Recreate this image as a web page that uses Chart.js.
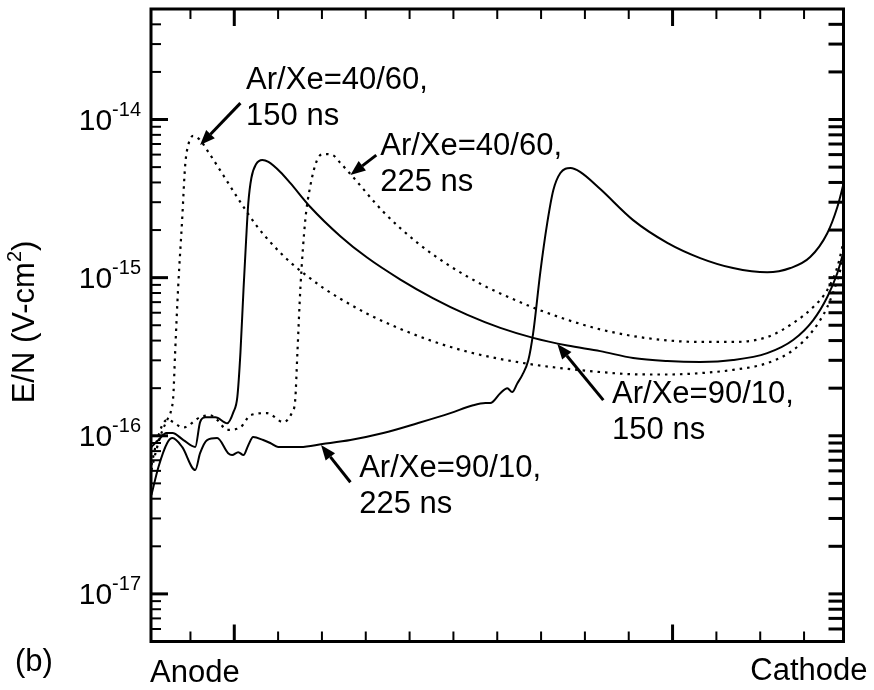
<!DOCTYPE html>
<html>
<head>
<meta charset="utf-8">
<script src="https://cdn.jsdelivr.net/npm/chart.js@4.4.1/dist/chart.umd.min.js"></script>
<style>
  html, body { margin: 0; padding: 0; background: #fff; }
  #wrap { width: 874px; height: 690px; }
</style>
</head>
<body>
<div id="wrap"><canvas id="plot" width="874" height="690"></canvas></div>
<script>
// position across the gap (minor tick spacing = 1), anode on the left
const s150X = [-1.89, -1.73, -1.55, -1.41, -1.16, -0.89, -0.78, -0.66, -0.43, -0.16,
  -0.02, 0.07, 0.14, 0.21, 0.27, 0.32, 0.39, 0.50, 0.64, 0.78,
  1.05, 1.28, 1.73, 2.42, 3.03, 3.79, 4.54, 5.32, 6.07, 6.82,
  7.60, 8.35, 9.10, 9.88, 10.63, 11.38, 12.16, 12.75, 13.21, 13.53, 13.76, 13.9];
const s150Y = [8.5e-17, 9.4e-17, 1.04e-16, 1.04e-16, 9.4e-17, 8.5e-17, 1.22e-16, 1.31e-16, 1.31e-16, 1.20e-16,
  1.41e-16, 1.76e-16, 3.33e-16, 8.35e-16, 1.73e-15, 2.96e-15, 4.27e-15, 5.23e-15, 5.55e-15, 5.39e-15,
  4.66e-15, 3.96e-15, 2.81e-15, 1.83e-15, 1.34e-15, 9.73e-16, 7.40e-16, 5.81e-16, 4.81e-16, 4.16e-16,
  3.72e-16, 3.43e-16, 3.10e-16, 2.97e-16, 2.93e-16, 3.01e-16, 3.33e-16, 4.03e-16, 5.39e-16, 7.54e-16, 1.07e-15, 1.45e-15];

const d150X = [-1.89, -1.78, -1.64, -1.53, -1.44, -1.39, -1.35, -1.28, -1.19, -1.12,
  -1.05, -0.94, -0.78, -0.62, -0.25, 0.14, 0.52, 0.89, 1.28, 1.67,
  2.03, 2.42, 3.03, 3.79, 4.54, 5.32, 6.07, 6.82, 7.60, 8.35,
  9.10, 9.88, 10.63, 11.38, 12.16, 12.75, 13.21, 13.53, 13.76, 13.9];
const d150Y = [6.07e-17, 8.1e-17, 1.08e-16, 1.26e-16, 1.45e-16, 1.81e-16, 3.33e-16, 8.73e-16, 2.31e-15, 5.15e-15,
  6.90e-15, 7.87e-15, 7.42e-15, 6.41e-15, 4.44e-15, 3.00e-15, 2.11e-15, 1.60e-15, 1.25e-15, 1.02e-15,
  8.61e-16, 7.36e-16, 5.92e-16, 4.74e-16, 3.95e-16, 3.40e-16, 3.06e-16, 2.82e-16, 2.65e-16, 2.53e-16,
  2.45e-16, 2.44e-16, 2.49e-16, 2.61e-16, 2.88e-16, 3.48e-16, 4.66e-16, 6.52e-16, 9.66e-16, 1.33e-15];

const d225X = [-1.89, -1.76, -1.64, -1.53, -1.16, -0.78, -0.55, -0.39, -0.16, 0.14,
  0.37, 0.75, 1.12, 1.32, 1.39, 1.44, 1.51, 1.62, 1.73, 1.89,
  2.03, 2.24, 2.42, 2.65, 3.40, 4.18, 4.93, 5.68, 6.07, 6.82,
  7.60, 8.35, 9.10, 9.88, 10.63, 11.38, 12.16, 12.75, 13.21, 13.53, 13.76, 13.9];
const d225Y = [6.53e-17, 9.4e-17, 1.17e-16, 1.26e-16, 1.13e-16, 1.31e-16, 1.35e-16, 1.26e-16, 1.09e-16, 1.13e-16,
  1.35e-16, 1.39e-16, 1.22e-16, 1.41e-16, 1.68e-16, 3.33e-16, 8.73e-16, 2.31e-15, 3.74e-15, 5.55e-15,
  6.05e-15, 5.97e-15, 5.31e-15, 4.52e-15, 2.61e-15, 1.66e-15, 1.18e-15, 8.95e-16, 7.94e-16, 6.47e-16,
  5.41e-16, 4.71e-16, 4.27e-16, 4.01e-16, 3.92e-16, 3.92e-16, 4.21e-16, 5.16e-16, 6.52e-16, 8.35e-16, 1.17e-15, 1.68e-15];

const s225X = [-1.89, -1.73, -1.53, -1.41, -1.19, -0.89, -0.78, -0.62, -0.39, -0.14,
  -0.05, 0.09, 0.21, 0.32, 0.43, 0.66, 0.82, 1.0, 1.51, 2.01,
  2.65, 3.40, 4.18, 4.93, 5.45, 5.73, 5.84, 6.07, 6.23, 6.34,
  6.46, 6.57, 6.71, 6.82, 6.98, 7.14, 7.28, 7.44, 7.67, 7.89,
  8.35, 9.10, 9.88, 10.63, 11.38, 12.16, 12.69, 13.14, 13.53, 13.76, 13.9];
const s225Y = [4.22e-17, 6.34e-17, 9.0e-17, 9.67e-17, 8.5e-17, 6.07e-17, 7.76e-17, 9.4e-17, 9.67e-17, 7.76e-17,
  7.55e-17, 7.87e-17, 7.55e-17, 8.72e-17, 9.82e-17, 9.4e-17, 9.0e-17, 8.5e-17, 8.5e-17, 8.87e-17,
  9.4e-17, 1.04e-16, 1.20e-16, 1.39e-16, 1.56e-16, 1.61e-16, 1.61e-16, 1.86e-16, 2.00e-16, 1.89e-16,
  2.15e-16, 2.42e-16, 3.01e-16, 4.47e-16, 1.07e-15, 2.21e-15, 3.58e-15, 4.59e-15, 4.93e-15, 4.66e-15,
  3.63e-15, 2.31e-15, 1.66e-15, 1.33e-15, 1.15e-15, 1.08e-15, 1.15e-15, 1.35e-15, 1.91e-15, 2.80e-15, 3.91e-15];

// axis ticks
const xTicks = [-1, 0, 1, 2, 3, 4, 5, 6, 7, 8, 9, 10, 11, 12, 13];
const xMajor = [0, 10];
const yDecades = [-17, -16, -15, -14];
const yMantissas = [1, 2, 3, 4, 5, 6, 7, 8, 9];

// labels with arrows, anchored in data coordinates
const notes = [
  { lines: ['Ar/Xe=40/60,', '150 ns'], at: [0.27, 1.56e-14], tail: [0.14, 1.27e-14], tip: [-0.78, 6.9e-15] },
  { lines: ['Ar/Xe=40/60,', '225 ns'], at: [3.33, 5.96e-15], tail: [3.24, 5.96e-15], tip: [2.65, 4.46e-15] },
  { lines: ['Ar/Xe=90/10,', '150 ns'], at: [8.62, 1.61e-16], tail: [8.42, 1.68e-16], tip: [7.37, 3.80e-16] },
  { lines: ['Ar/Xe=90/10,', '225 ns'], at: [2.85, 5.48e-17], tail: [2.65, 5.08e-17], tip: [1.98, 8.73e-17] }
];

const FONT = '"Liberation Sans", Arial, Helvetica, sans-serif';

function pts(xs, ys) {
  return xs.map((x, i) => ({ x: x, y: ys[i] }));
}

function line(data, dotted) {
  return {
    data: data,
    borderColor: '#000',
    borderWidth: dotted ? 2.2 : 2,
    borderDash: dotted ? [2.5, 5] : [],
    pointRadius: 0,
    cubicInterpolationMode: 'monotone',
    fill: false
  };
}

function arrow(ctx, x1, y1, x2, y2) {
  const ang = Math.atan2(y2 - y1, x2 - x1);
  const head = 15, half = 6;
  const bx = x2 - head * Math.cos(ang), by = y2 - head * Math.sin(ang);
  ctx.lineWidth = 3;
  ctx.beginPath();
  ctx.moveTo(x1, y1);
  ctx.lineTo(bx, by);
  ctx.stroke();
  ctx.beginPath();
  ctx.moveTo(x2, y2);
  ctx.lineTo(bx + half * Math.sin(ang), by - half * Math.cos(ang));
  ctx.lineTo(bx - half * Math.sin(ang), by + half * Math.cos(ang));
  ctx.closePath();
  ctx.fill();
}

const framePlugin = {
  id: 'frame',
  afterDraw(chart) {
    const ctx = chart.ctx, a = chart.chartArea;
    const xs = chart.scales.x, ys = chart.scales.y;
    ctx.save();
    ctx.strokeStyle = '#000';
    ctx.fillStyle = '#000';
    ctx.lineCap = 'butt';

    // x ticks, bottom and top
    xTicks.forEach(t => {
      const px = xs.getPixelForValue(t);
      const major = xMajor.includes(t);
      const len = major ? 17 : 10;
      ctx.lineWidth = major ? 3 : 2;
      ctx.beginPath();
      ctx.moveTo(px, a.bottom); ctx.lineTo(px, a.bottom - len);
      ctx.moveTo(px, a.top); ctx.lineTo(px, a.top + len);
      ctx.stroke();
    });

    // y ticks, left and right
    for (let d = yDecades[0] - 1; d <= yDecades[yDecades.length - 1]; d++) {
      yMantissas.forEach(m => {
        const v = m * Math.pow(10, d);
        if (v <= ys.min * 1.001 || v >= ys.max * 0.999) return;
        const py = ys.getPixelForValue(v);
        const major = m === 1;
        ctx.lineWidth = major ? 3 : 2;
        ctx.beginPath();
        ctx.moveTo(a.left, py); ctx.lineTo(a.left + (major ? 17 : 10), py);
        ctx.stroke();
        ctx.lineWidth = 3;
        ctx.beginPath();
        ctx.moveTo(a.right, py); ctx.lineTo(a.right - 15, py);
        ctx.stroke();
      });
    }

    // frame
    ctx.lineWidth = 3;
    ctx.strokeRect(a.left, a.top, a.right - a.left, a.bottom - a.top);

    // y tick labels: 10 with a raised exponent
    yDecades.forEach(d => {
      const py = ys.getPixelForValue(Math.pow(10, d));
      const exp = String(d);
      ctx.font = '20px ' + FONT;
      const ew = ctx.measureText(exp).width;
      const right = a.left - 10;
      ctx.textAlign = 'left';
      ctx.textBaseline = 'alphabetic';
      ctx.fillText(exp, right - ew, py - 4);
      ctx.font = '30px ' + FONT;
      ctx.textAlign = 'right';
      ctx.fillText('10', right - ew, py + 10);
    });

    // y axis title
    ctx.save();
    ctx.translate(34, 322);
    ctx.rotate(-Math.PI / 2);
    ctx.textAlign = 'left';
    const partA = 'E/N (V-cm', partB = '2', partC = ')';
    ctx.font = '31px ' + FONT;
    const wa = ctx.measureText(partA).width, wc = ctx.measureText(partC).width;
    ctx.font = '20px ' + FONT;
    const wb = ctx.measureText(partB).width;
    let x0 = -(wa + wb + wc) / 2;
    ctx.font = '31px ' + FONT;
    ctx.fillText(partA, x0, 0);
    ctx.font = '20px ' + FONT;
    ctx.fillText(partB, x0 + wa, -13);
    ctx.font = '31px ' + FONT;
    ctx.fillText(partC, x0 + wa + wb, 0);
    ctx.restore();

    // x axis end labels and panel tag
    ctx.font = '31px ' + FONT;
    ctx.textAlign = 'left';
    ctx.fillText('Anode', a.left - 1, a.bottom + 40);
    ctx.fillText('(b)', 15, 671);
    ctx.textAlign = 'right';
    ctx.fillText('Cathode', a.right + 24, a.bottom + 38);

    // annotations
    notes.forEach(n => {
      const tx = xs.getPixelForValue(n.at[0]), ty = ys.getPixelForValue(n.at[1]);
      ctx.font = '31px ' + FONT;
      ctx.textAlign = 'left';
      n.lines.forEach((s, i) => ctx.fillText(s, tx, ty + i * 36));
      arrow(ctx,
        xs.getPixelForValue(n.tail[0]), ys.getPixelForValue(n.tail[1]),
        xs.getPixelForValue(n.tip[0]), ys.getPixelForValue(n.tip[1]));
    });

    ctx.restore();
  }
};

new Chart(document.getElementById('plot'), {
  type: 'line',
  data: {
    datasets: [
      line(pts(d150X, d150Y), true),
      line(pts(d225X, d225Y), true),
      line(pts(s150X, s150Y), false),
      line(pts(s225X, s225Y), false)
    ]
  },
  options: {
    responsive: false,
    animation: false,
    events: [],
    layout: { padding: { left: 151, right: 30.5, top: 9, bottom: 48.5 } },
    scales: {
      x: { type: 'linear', min: -1.9, max: 13.9, display: false },
      y: { type: 'logarithmic', min: 5e-18, max: 5e-14, display: false }
    },
    plugins: {
      legend: { display: false },
      tooltip: { enabled: false }
    }
  },
  plugins: [framePlugin]
});
</script>
</body>
</html>
